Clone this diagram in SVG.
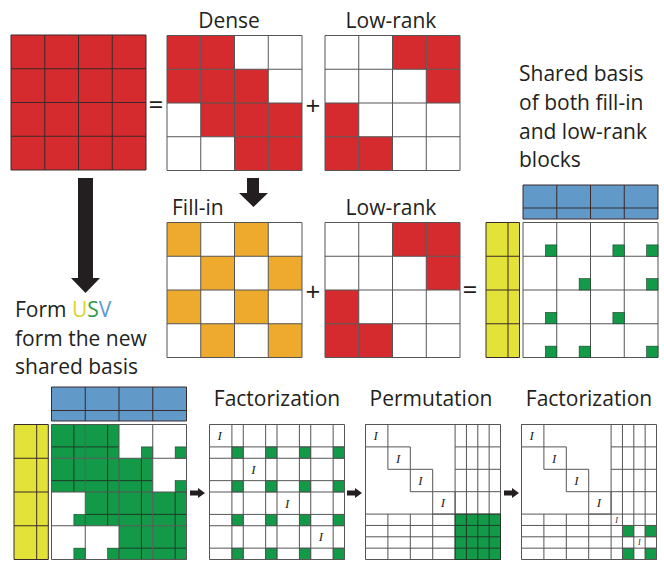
<svg xmlns="http://www.w3.org/2000/svg" xmlns:xlink="http://www.w3.org/1999/xlink" width="664" height="561" viewBox="0 0 664 561">
<style>
.t{font-family:"Open Sans","Noto Sans","Liberation Sans",sans-serif;font-size:21px;fill:#231f20}
.op{font-family:"Open Sans","Noto Sans","Liberation Sans",sans-serif;font-size:26px;fill:#231f20;text-anchor:middle}
.it{font-family:"Liberation Serif","DejaVu Serif",serif;font-style:italic;fill:#231f20;text-anchor:middle}
.gl{fill:none;stroke:#555;stroke-width:1}
.dl{fill:none;stroke:#3a2a2a;stroke-width:1}
.dk{fill:none;stroke:#1e3b28;stroke-width:1}
.red{fill:#d52b2e}
.org{fill:#eeaa2d}
.gr{fill:#129a49}
.blu{fill:#6199c9}
.yel{fill:#e2e238}
.arr{fill:#231f20}
</style>
<defs>
<path id="grid4" d="M0 0H135V135H0Z M33.75 0V135 M67.5 0V135 M101.25 0V135 M0 33.75H135 M0 67.5H135 M0 101.25H135"/>
<rect id="c" width="33.75" height="33.75"/>
<g id="gc"><rect width="33.75" height="33.75" class="gr"/><path d="M22.4 0V33.75M0 22.4H33.75" class="dk"/></g>
<rect id="sq" width="11.35" height="11.35" class="gr" stroke="#1e3b28" stroke-width="0.6"/>
</defs>

<!-- Connectors -->
<g id="connectors">
<polygon class="arr" points="78,178 93,178 93,278 100,278 85.5,293 71,278 78,278"/>
<polygon class="arr" points="247,178 259,178 259,193 268,193 253.5,207 239,193 247,193"/>
<polygon class="arr" points="190,490.5 198,490.5 198,488 205,493 198,498 198,495.5 190,495.5"/>
<polygon class="arr" points="347,490.5 355,490.5 355,488 362,493 355,498 355,495.5 347,495.5"/>
<polygon class="arr" points="504,490.5 512,490.5 512,488 519,493 512,498 512,495.5 504,495.5"/>
</g>

<!-- Operators -->
<g id="operators">
<text class="op" x="156" y="114">=</text>
<text class="op" x="313" y="115">+</text>
<text class="op" x="313" y="301">+</text>
<text class="op" x="470" y="299">=</text>
</g>

<!-- Full matrix -->
<g id="matrix-full" transform="translate(11,35)">
<rect class="red" width="135" height="135"/>
<use xlink:href="#grid4" class="dl"/>
</g>

<!-- Dense -->
<g id="dense">
<text class="t" x="229" y="28" text-anchor="middle">Dense</text>
<g transform="translate(167,35.5)">
<g class="red">
<use xlink:href="#c" x="0" y="0"/><use xlink:href="#c" x="33.75" y="0"/>
<use xlink:href="#c" x="0" y="33.75"/><use xlink:href="#c" x="33.75" y="33.75"/><use xlink:href="#c" x="67.5" y="33.75"/>
<use xlink:href="#c" x="33.75" y="67.5"/><use xlink:href="#c" x="67.5" y="67.5"/><use xlink:href="#c" x="101.25" y="67.5"/>
<use xlink:href="#c" x="67.5" y="101.25"/><use xlink:href="#c" x="101.25" y="101.25"/>
</g>
<use xlink:href="#grid4" class="gl"/>
</g>
</g>

<!-- Low-rank top -->
<g id="lowrank-top">
<text class="t" x="391" y="27.5" text-anchor="middle">Low-rank</text>
<g transform="translate(325,35.5)">
<g class="red">
<use xlink:href="#c" x="67.5" y="0"/><use xlink:href="#c" x="101.25" y="0"/>
<use xlink:href="#c" x="101.25" y="33.75"/>
<use xlink:href="#c" x="0" y="67.5"/>
<use xlink:href="#c" x="0" y="101.25"/><use xlink:href="#c" x="33.75" y="101.25"/>
</g>
<use xlink:href="#grid4" class="gl"/>
</g>
</g>

<!-- Shared basis label -->
<g id="shared-label">
<text class="t" x="519" y="81">Shared basis</text>
<text class="t" x="519" y="110">of both fill-in</text>
<text class="t" x="519" y="138.5">and low-rank</text>
<text class="t" x="519" y="166.5">blocks</text>
</g>

<!-- Fill-in -->
<g id="fillin">
<text class="t" x="172" y="215">Fill-in</text>
<g transform="translate(167,222.5)">
<g class="org">
<use xlink:href="#c" x="0" y="0"/><use xlink:href="#c" x="67.5" y="0"/>
<use xlink:href="#c" x="33.75" y="33.75"/><use xlink:href="#c" x="101.25" y="33.75"/>
<use xlink:href="#c" x="0" y="67.5"/><use xlink:href="#c" x="67.5" y="67.5"/>
<use xlink:href="#c" x="33.75" y="101.25"/><use xlink:href="#c" x="101.25" y="101.25"/>
</g>
<use xlink:href="#grid4" class="gl"/>
</g>
</g>

<!-- Low-rank mid -->
<g id="lowrank-mid">
<text class="t" x="391" y="214.5" text-anchor="middle">Low-rank</text>
<g transform="translate(325,222.5)">
<g class="red">
<use xlink:href="#c" x="67.5" y="0"/><use xlink:href="#c" x="101.25" y="0"/>
<use xlink:href="#c" x="101.25" y="33.75"/>
<use xlink:href="#c" x="0" y="67.5"/>
<use xlink:href="#c" x="0" y="101.25"/><use xlink:href="#c" x="33.75" y="101.25"/>
</g>
<use xlink:href="#grid4" class="gl"/>
</g>
</g>

<!-- Shared basis matrix (right) -->
<g id="shared-right">
<g transform="translate(523,185)">
<rect class="blu" width="135" height="34"/>
<path class="dl" d="M0 0H135V34H0Z M33.75 0V34 M67.5 0V34 M101.25 0V34 M0 23H135"/>
</g>
<g transform="translate(486,222.5)">
<rect class="yel" width="33.5" height="135"/>
<path class="dl" d="M0 0H33.5V135H0Z M22 0V135 M0 33.75H33.5 M0 67.5H33.5 M0 101.25H33.5"/>
</g>
<g transform="translate(523,222.5)">
<use xlink:href="#grid4" class="gl"/>
<use xlink:href="#sq" x="22.4" y="22.4"/><use xlink:href="#sq" x="89.9" y="22.4"/><use xlink:href="#sq" x="123.65" y="22.4"/>
<use xlink:href="#sq" x="56.15" y="56.15"/><use xlink:href="#sq" x="123.65" y="56.15"/>
<use xlink:href="#sq" x="22.4" y="89.9"/><use xlink:href="#sq" x="89.9" y="89.9"/>
<use xlink:href="#sq" x="22.4" y="123.65"/><use xlink:href="#sq" x="56.15" y="123.65"/><use xlink:href="#sq" x="123.65" y="123.65"/>
</g>
</g>

<!-- Form USV label -->
<g id="usv-label">
<text class="t" x="15" y="317">Form <tspan fill="#d6d62c">U</tspan><tspan fill="#2e9b45">S</tspan><tspan fill="#5b98d0">V</tspan></text>
<text class="t" x="15" y="345.5">form the new</text>
<text class="t" x="15" y="374">shared basis</text>
</g>

<!-- Bottom-left combined -->
<g id="combined">
<g transform="translate(51.5,387)">
<rect class="blu" width="135" height="34"/>
<path class="dl" d="M0 0H135V34H0Z M33.75 0V34 M67.5 0V34 M101.25 0V34 M0 23.5H135"/>
</g>
<g transform="translate(14,424.5)">
<rect class="yel" width="34.3" height="135"/>
<path class="dl" d="M0 0H34.3V135H0Z M22.7 0V135 M0 33.75H34.3 M0 67.5H34.3 M0 101.25H34.3"/>
</g>
<g transform="translate(51.5,424.5)">
<rect width="135" height="135" fill="#fff"/>
<use xlink:href="#gc" x="0" y="0"/><use xlink:href="#gc" x="33.75" y="0"/>
<use xlink:href="#gc" x="0" y="33.75"/><use xlink:href="#gc" x="33.75" y="33.75"/><use xlink:href="#gc" x="67.5" y="33.75"/>
<use xlink:href="#gc" x="33.75" y="67.5"/><use xlink:href="#gc" x="67.5" y="67.5"/><use xlink:href="#gc" x="101.25" y="67.5"/>
<use xlink:href="#gc" x="67.5" y="101.25"/><use xlink:href="#gc" x="101.25" y="101.25"/>
<use xlink:href="#sq" x="89.9" y="22.4"/><use xlink:href="#sq" x="123.65" y="22.4"/>
<use xlink:href="#sq" x="123.65" y="56.15"/>
<use xlink:href="#sq" x="22.4" y="89.9"/>
<use xlink:href="#sq" x="22.4" y="123.65"/><use xlink:href="#sq" x="56.15" y="123.65"/>
<use xlink:href="#grid4" class="gl"/>
</g>
</g>

<!-- Factorization 1 -->
<g id="factorization1">
<text class="t" x="277" y="406" text-anchor="middle">Factorization</text>
<g transform="translate(209.5,424.5)">
<g>
<use xlink:href="#sq" x="22.4" y="22.4"/><use xlink:href="#sq" x="56.15" y="22.4"/><use xlink:href="#sq" x="89.9" y="22.4"/><use xlink:href="#sq" x="123.65" y="22.4"/>
<use xlink:href="#sq" x="22.4" y="56.15"/><use xlink:href="#sq" x="56.15" y="56.15"/><use xlink:href="#sq" x="89.9" y="56.15"/><use xlink:href="#sq" x="123.65" y="56.15"/>
<use xlink:href="#sq" x="22.4" y="89.9"/><use xlink:href="#sq" x="56.15" y="89.9"/><use xlink:href="#sq" x="89.9" y="89.9"/><use xlink:href="#sq" x="123.65" y="89.9"/>
<use xlink:href="#sq" x="22.4" y="123.65"/><use xlink:href="#sq" x="56.15" y="123.65"/><use xlink:href="#sq" x="89.9" y="123.65"/><use xlink:href="#sq" x="123.65" y="123.65"/>
</g>
<path class="gl" d="M0 0H135V135H0Z M22.4 0V135 M33.75 0V135 M56.15 0V135 M67.5 0V135 M89.9 0V135 M101.25 0V135 M123.65 0V135 M0 22.4H135 M0 33.75H135 M0 56.15H135 M0 67.5H135 M0 89.9H135 M0 101.25H135 M0 123.65H135"/>
<g class="it" font-size="13">
<text x="10.2" y="15.7">I</text><text x="43.95" y="49.45">I</text><text x="77.7" y="83.2">I</text><text x="111.45" y="116.95">I</text>
</g>
</g>
</g>

<!-- Permutation -->
<g id="permutation">
<text class="t" x="431" y="406" text-anchor="middle">Permutation</text>
<g transform="translate(365.5,424.5)">
<rect class="gr" x="89.6" y="89.6" width="45.4" height="45.4"/>
<path class="gl" d="M0 0H135V135H0Z M0 0H22.4V22.4H0Z M22.4 22.4H44.8V44.8H22.4Z M44.8 44.8H67.2V67.2H44.8Z M67.2 67.2H89.6V89.6H67.2Z M89.6 0V135 M100.95 0V89.6 M112.3 0V89.6 M123.65 0V89.6 M0 89.6H135 M0 100.95H89.6 M0 112.3H89.6 M0 123.65H89.6 M89.6 22.4H135 M89.6 44.8H135 M89.6 67.2H135 M22.4 89.6V135 M44.8 89.6V135 M67.2 89.6V135"/>
<path class="dk" d="M89.6 89.6H135V135H89.6Z M100.95 89.6V135 M112.3 89.6V135 M123.65 89.6V135 M89.6 100.95H135 M89.6 112.3H135 M89.6 123.65H135"/>
<g class="it" font-size="13">
<text x="10.2" y="15.7">I</text><text x="32.6" y="38.1">I</text><text x="55" y="60.5">I</text><text x="77.4" y="82.9">I</text>
</g>
</g>
</g>

<!-- Factorization 2 -->
<g id="factorization2">
<text class="t" x="589" y="406" text-anchor="middle">Factorization</text>
<g transform="translate(521.5,424.5)">
<use xlink:href="#sq" x="100.95" y="100.95"/><use xlink:href="#sq" x="123.65" y="100.95"/>
<use xlink:href="#sq" x="100.95" y="123.65"/><use xlink:href="#sq" x="123.65" y="123.65"/>
<path class="gl" d="M0 0H135V135H0Z M0 0H22.4V22.4H0Z M22.4 22.4H44.8V44.8H22.4Z M44.8 44.8H67.2V67.2H44.8Z M67.2 67.2H89.6V89.6H67.2Z M89.6 0V135 M100.95 0V135 M112.3 0V135 M123.65 0V135 M0 89.6H135 M0 100.95H135 M0 112.3H135 M0 123.65H135 M89.6 22.4H135 M89.6 44.8H135 M89.6 67.2H135 M22.4 89.6V135 M44.8 89.6V135 M67.2 89.6V135"/>
<g class="it" font-size="13">
<text x="10.2" y="15.7">I</text><text x="32.6" y="38.1">I</text><text x="55" y="60.5">I</text><text x="77.4" y="82.9">I</text>
</g>
<g class="it" font-size="8">
<text x="95.1" y="98">I</text><text x="117.8" y="120.7">I</text>
</g>
</g>
</g>
</svg>
